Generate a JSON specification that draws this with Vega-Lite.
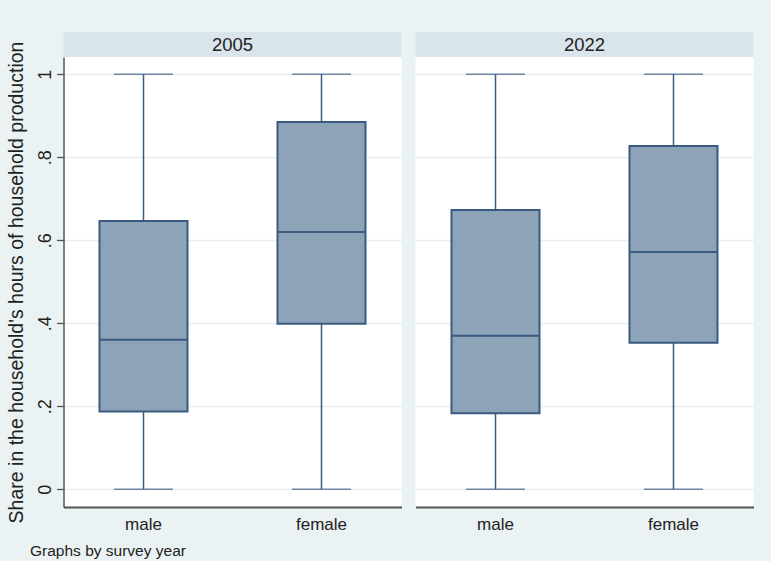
{
  "$schema": "https://vega.github.io/schema/vega-lite/v6.json",
  "background": "#eaf2f3",
  "padding": {"left": 5.5, "top": 32, "right": 17, "bottom": 4},
  "config": {
    "font": "Liberation Sans",
    "view": {"stroke": null},
    "concat": {"spacing": 14}
  },
  "datasets": {
    "stats": [
      {"year": "2005", "sex": "male", "lo": 0, "q1": 0.1875, "med": 0.3606, "q3": 0.6466, "hi": 1},
      {"year": "2005", "sex": "female", "lo": 0, "q1": 0.399, "med": 0.620, "q3": 0.885, "hi": 1},
      {"year": "2022", "sex": "male", "lo": 0, "q1": 0.183, "med": 0.370, "q3": 0.673, "hi": 1},
      {"year": "2022", "sex": "female", "lo": 0, "q1": 0.353, "med": 0.572, "q3": 0.827, "hi": 1}
    ]
  },
  "title": {"text": "Graphs by survey year", "orient": "bottom", "anchor": "start", "frame": "bounds", "fontSize": 15.5, "fontWeight": "normal", "color": "#222", "offset": 12, "dx": 24},
  "hconcat": [
    {
      "spacing": 0,
      "bounds": "flush",
      "vconcat": [
        {
          "width": 338, "height": 25,
          "view": {"fill": "#d9e5eb", "stroke": null},
          "data": {"values": [{"year": "2005"}]},
          "mark": {"type": "text", "fontSize": 18.5, "color": "#222", "baseline": "middle", "align": "center"},
          "encoding": {"text": {"field": "year", "type": "nominal"}}
        },
        {
          "width": 338, "height": 450,
          "view": {"fill": "white", "stroke": null},
          "data": {"name": "stats"},
          "transform": [{"filter": "datum.year == '2005'"}],
          "encoding": {
            "x": {"field": "sex", "type": "nominal", "sort": ["male", "female"],
              "scale": {"paddingInner": 0.5056, "paddingOuter": 0.2022},
              "axis": {"title": null, "ticks": false, "labelAngle": 0, "labelFontSize": 17, "labelPadding": 9, "labelColor": "#222", "domainColor": "#555", "domainWidth": 1.8, "grid": false}}
          },
          "layer": [
            {"mark": {"type": "rule", "color": "#3a5a80", "strokeWidth": 1.5},
             "encoding": {
               "y": {"field": "lo", "type": "quantitative", "title": "Share in the household's hours of household production",
                 "scale": {"domain": [-0.0427, 1.0417], "nice": false, "zero": false},
                 "axis": {"values": [0, 0.2, 0.4, 0.6, 0.8, 1],
                   "labelExpr": "datum.value == 0 ? '0' : datum.value == 1 ? '1' : replace(format(datum.value, '.1f'), '0.', '.')",
                   "labelAngle": 270, "labelAlign": "center", "labelBaseline": "alphabetic", "labelFontSize": 18, "labelPadding": 6, "labelColor": "#222",
                   "tickSize": 7, "tickColor": "#555", "tickWidth": 1.3, "domainColor": "#555", "domainWidth": 1.5,
                   "grid": true, "gridColor": "#e6eef0", "gridWidth": 1.5,
                   "titleFontSize": 19.5, "titleFontWeight": "normal", "titleColor": "#222", "titlePadding": 10.5}},
               "y2": {"field": "hi"}}},
            {"mark": {"type": "tick", "color": "#3a5a80", "thickness": 1.5, "size": 59},
             "encoding": {"y": {"field": "lo", "type": "quantitative", "title": "Share in the household's hours of household production"}}},
            {"mark": {"type": "tick", "color": "#3a5a80", "thickness": 1.5, "size": 59},
             "encoding": {"y": {"field": "hi", "type": "quantitative", "title": "Share in the household's hours of household production"}}},
            {"mark": {"type": "bar", "fill": "#8ca3b8", "stroke": "#3a5a80", "strokeWidth": 2, "size": 88, "opacity": 1},
             "encoding": {"y": {"field": "q1", "type": "quantitative", "title": "Share in the household's hours of household production"}, "y2": {"field": "q3"}}},
            {"mark": {"type": "tick", "color": "#3a5a80", "thickness": 2, "size": 88, "opacity": 1},
             "encoding": {"y": {"field": "med", "type": "quantitative", "title": "Share in the household's hours of household production"}}}
          ]
        }
      ]
    },
    {
      "spacing": 0,
      "bounds": "flush",
      "vconcat": [
        {
          "width": 338, "height": 25,
          "view": {"fill": "#d9e5eb", "stroke": null},
          "data": {"values": [{"year": "2022"}]},
          "mark": {"type": "text", "fontSize": 18.5, "color": "#222", "baseline": "middle", "align": "center"},
          "encoding": {"text": {"field": "year", "type": "nominal"}}
        },
        {
          "width": 338, "height": 450,
          "view": {"fill": "white", "stroke": null},
          "data": {"name": "stats"},
          "transform": [{"filter": "datum.year == '2022'"}],
          "encoding": {
            "x": {"field": "sex", "type": "nominal", "sort": ["male", "female"],
              "scale": {"paddingInner": 0.5056, "paddingOuter": 0.2022},
              "axis": {"title": null, "ticks": false, "labelAngle": 0, "labelFontSize": 17, "labelPadding": 9, "labelColor": "#222", "domainColor": "#555", "domainWidth": 1.8, "grid": false}}
          },
          "layer": [
            {"mark": {"type": "rule", "color": "#3a5a80", "strokeWidth": 1.5},
             "encoding": {
               "y": {"field": "lo", "type": "quantitative", "title": null,
                 "scale": {"domain": [-0.0427, 1.0417], "nice": false, "zero": false},
                 "axis": {"values": [0, 0.2, 0.4, 0.6, 0.8, 1], "labels": false, "ticks": false, "domain": false,
                   "grid": true, "gridColor": "#e6eef0", "gridWidth": 1.5}},
               "y2": {"field": "hi"}}},
            {"mark": {"type": "tick", "color": "#3a5a80", "thickness": 1.5, "size": 59},
             "encoding": {"y": {"field": "lo", "type": "quantitative", "title": null}}},
            {"mark": {"type": "tick", "color": "#3a5a80", "thickness": 1.5, "size": 59},
             "encoding": {"y": {"field": "hi", "type": "quantitative", "title": null}}},
            {"mark": {"type": "bar", "fill": "#8ca3b8", "stroke": "#3a5a80", "strokeWidth": 2, "size": 88, "opacity": 1},
             "encoding": {"y": {"field": "q1", "type": "quantitative", "title": null}, "y2": {"field": "q3"}}},
            {"mark": {"type": "tick", "color": "#3a5a80", "thickness": 2, "size": 88, "opacity": 1},
             "encoding": {"y": {"field": "med", "type": "quantitative", "title": null}}}
          ]
        }
      ]
    }
  ]
}
